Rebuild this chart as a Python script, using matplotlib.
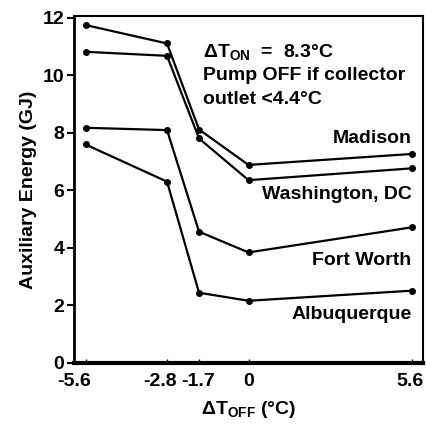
import matplotlib
matplotlib.use("Agg")
import matplotlib.pyplot as plt
import matplotlib.transforms as mtransforms

# Delta T_off settings (deg C)
dt_off = [-5.6, -2.8, -1.7, 0, 5.6]
tick_labels = ["-5.6", "-2.8", "-1.7", "0", "5.6"]

# auxiliary energy (GJ)
madison = [11.74, 11.1, 8.11, 6.88, 7.26]
washington = [10.81, 10.67, 7.8, 6.35, 6.76]
fort_worth = [8.17, 8.09, 4.56, 3.84, 4.71]
albuquerque = [7.59, 6.3, 2.44, 2.16, 2.51]

cities = ["Madison", "Washington, DC", "Fort Worth", "Albuquerque"]
label_y = [7.8, 5.85, 3.57, 1.67]

plt.rcParams["font.family"] = "Liberation Sans"
plt.rcParams["font.weight"] = "bold"
plt.rcParams["mathtext.fontset"] = "custom"
plt.rcParams["mathtext.rm"] = "Liberation Sans:bold"
plt.rcParams["mathtext.it"] = "Liberation Sans:bold"
plt.rcParams["mathtext.bf"] = "Liberation Sans:bold"

fs = 14

fig = plt.figure(figsize=(4.27, 4.24), dpi=100)
ax = fig.add_axes([0.173, 0.144, 0.818, 0.818])

for series in [madison, washington, fort_worth, albuquerque]:
    ax.plot(dt_off, series, color="black", lw=1.6, marker="o", ms=4)

for name, y in zip(cities, label_y):
    ax.text(5.6, y, name, ha="right", va="center", fontsize=fs, fontweight="bold")

ax.text(-1.57, 10.8, r"$\Delta$T$_{\rm ON}$  =  8.3°C", fontsize=fs, fontweight="bold", va="center")
ax.text(-1.57, 10.0, "Pump OFF if collector", fontsize=fs, fontweight="bold", va="center")
ax.text(-1.57, 9.15, "outlet <4.4°C", fontsize=fs, fontweight="bold", va="center")

ax.set_xlim(-6.0, 6.0)
ax.set_ylim(0, 12.05)
ax.set_xticks(dt_off)
ax.set_xticklabels(tick_labels)
ax.set_yticks([0, 2, 4, 6, 8, 10, 12])
ax.tick_params(axis="x", direction="in", length=3, width=1, labelsize=fs, pad=7)
ax.tick_params(axis="y", direction="out", length=5, width=1.5, labelsize=fs, pad=2)

# the printed labels sit a little left of their ticks
shifts = [-11, -7, -1, 0, -2]
for lab, dx in zip(ax.get_xticklabels(), shifts):
    lab.set_transform(lab.get_transform() + mtransforms.ScaledTranslation(dx / 100, 0, fig.dpi_scale_trans))

ax.spines["bottom"].set_linewidth(3)
ax.spines["left"].set_linewidth(2)
ax.spines["top"].set_linewidth(1.5)
ax.spines["right"].set_linewidth(1.5)

ax.set_xlabel(r"$\Delta$T$_{\rm OFF}$ (°C)", fontsize=fs, fontweight="bold", labelpad=7)
ax.set_ylabel("Auxiliary Energy (GJ)", fontsize=fs, fontweight="bold", labelpad=4)

fig.savefig("out.png", dpi=100)
